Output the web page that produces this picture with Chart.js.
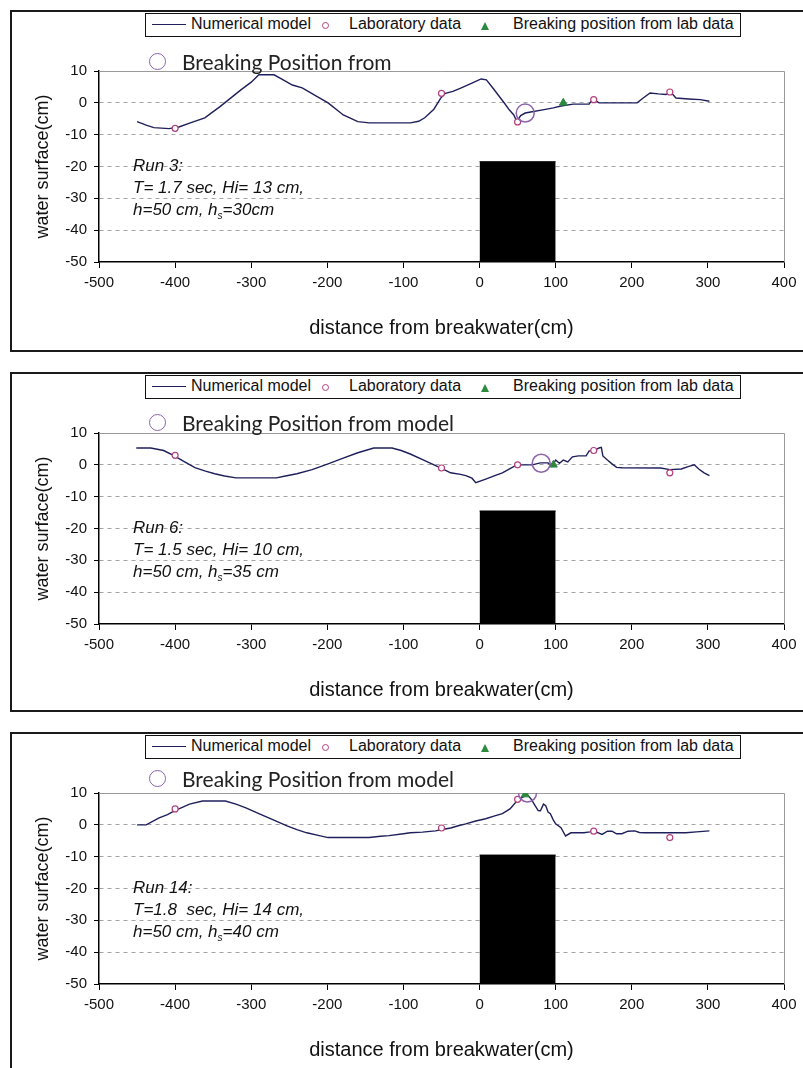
<!DOCTYPE html>
<html>
<head>
<meta charset="utf-8">
<script src="https://cdn.jsdelivr.net/npm/chart.js@4/dist/chart.umd.min.js"></script>
<style>
html,body{margin:0;padding:0;background:#fff;}
body{width:803px;height:1068px;overflow:hidden;position:relative;font-family:'Liberation Sans',Arial,sans-serif;color:#111;}
.panel{position:absolute;left:0;width:803px;height:345px;}
.frame{position:absolute;left:10px;top:0;width:830px;border:2px solid #1a1a1a;box-sizing:border-box;}
.panel canvas{position:absolute;left:0;top:0;}
.legend{position:absolute;left:145px;top:3px;width:596px;height:24px;border:1.5px solid #111;box-sizing:border-box;background:#fff;font-size:16px;}
.legend span{position:absolute;top:1px;white-space:nowrap;}
.lg-line{position:absolute;left:6px;top:10px;width:34px;height:0;border-top:1.5px solid #1f1f5c;}
.lg-circ{position:absolute;left:176px;top:8px;width:5px;height:5px;border:1.3px solid #b3407e;border-radius:50%;}
.lg-tri{position:absolute;left:335px;top:8px;width:0;height:0;border-left:4px solid transparent;border-right:4px solid transparent;border-bottom:8px solid #2b8a3e;}
.bpm{position:absolute;left:182px;font-family:Lato,'Open Sans',sans-serif;font-size:21px;color:#222;white-space:nowrap;line-height:24px;}
.bpm i{position:absolute;left:-33px;top:3px;width:15px;height:15px;border:1.5px solid #8d64ab;border-radius:50%;}
.run{position:absolute;left:133px;font-style:italic;font-size:17px;line-height:22px;white-space:nowrap;color:#111;}
.run sub{font-size:10px;}
</style>
</head>
<body>
<script>
// ---------- shared tick values ----------
const xTickValues = [-500, -400, -300, -200, -100, 0, 100, 200, 300, 400];
const yTickValues = [10, 0, -10, -20, -30, -40, -50];
const breakwaterX = [0, 100];

// ---------- Run 3 ----------
const run3ModelX = [-450,-438,-428,-408,-395,-380,-361,-341,-314,-300,-290,-270,-258,-246,-233,-215,-199,-179,-160,-145,-125,-105,-91,-80,-72,-60,-51,-45,-35,-24,-10,2,9,18,26,33,39,45,49,54,60,69,83,97,107,123,144,148,152,157,207,215,224,235,245,251,258,275,290,302];
const run3ModelY = [-5.9,-7,-7.8,-8.1,-7.6,-6.3,-4.7,-1.2,4,6.5,8.8,8.8,7.2,5.6,4.7,2.2,0,-3.8,-5.9,-6.3,-6.3,-6.3,-6.3,-5.8,-4.7,-2,1.5,3,3.6,4.7,6.2,7.5,7.2,4.5,2,-0.2,-2.2,-3.8,-5.9,-4,-3.2,-2.8,-2.2,-1.6,-1,-0.4,-0.4,1,0.8,0,0,1.5,3.1,2.8,2.6,3.4,1.5,1.2,1,0.5];
const run3LabX = [-400, -50, 50, 150, 250];
const run3LabY = [-8, 3, -6, 1, 3.4];
const run3BreakLabX = [110];
const run3BreakLabY = [0];
const run3BreakModelX = [60];
const run3BreakModelY = [-3.2];
const run3BreakwaterTop = [-18.5, -18.5];

// ---------- Run 6 ----------
const run6ModelX = [-451,-432,-415,-401,-388,-374,-360,-348,-335,-320,-295,-267,-255,-240,-220,-199,-180,-160,-139,-115,-103,-91,-72,-52,-38,-25,-18,-10,-5,9,20,30,40,49,60,69,80,90,95,100,105,110,116,122,130,140,144,150,157,160,162,168,174,180,187,238,250,265,275,282,288,295,302];
const run6ModelY = [5.3,5.3,4.5,2.8,1,-0.9,-2,-2.8,-3.5,-4.1,-4.1,-4.1,-3.5,-2.8,-1.5,0.3,2,3.8,5.3,5.3,4.5,3.4,1.3,-0.9,-2.5,-3,-3.4,-4.2,-5.6,-4.4,-3.4,-2.5,-1.2,0,0,0,0.6,0.6,-0.5,1.5,0.5,1.5,0.9,2.5,2.8,2.8,4.4,4.4,5.3,5.5,2.8,1.5,0.3,-0.8,-0.9,-1,-1.5,-1.3,-0.5,0,-1.3,-2.5,-3.4];
const run6LabX = [-400, -50, 50, 150, 250];
const run6LabY = [3, -1, 0, 4.5, -2.5];
const run6BreakLabX = [97];
const run6BreakLabY = [0];
const run6BreakModelX = [81];
const run6BreakModelY = [0.5];
const run6BreakwaterTop = [-14.5, -14.5];

// ---------- Run 14 ----------
const run14ModelX = [-450,-438,-421,-410,-401,-381,-364,-334,-320,-307,-290,-274,-253,-240,-227,-212,-199,-170,-145,-130,-119,-100,-91,-75,-58,-45,-38,-28,-18,-5,8,20,30,40,49,55,63,68,73,77,80,84,87,90,93,97,100,107,113,120,137,145,150,161,168,174,180,187,195,204,210,217,245,260,271,285,302];
const run14ModelY = [0,0,2.2,3.2,4.4,6.5,7.5,7.5,6.5,5.3,3.5,1.9,-0.3,-1.5,-2.5,-3.3,-4,-4,-4,-3.6,-3.4,-2.8,-2.5,-2.3,-1.9,-1.3,-1,-0.3,0.3,1.2,1.9,2.8,3.5,5,7.5,8.5,9.5,8,6,4.5,4.4,6.5,6,4,3.5,1.5,0.3,-0.9,-3.5,-2.5,-2.5,-2.2,-1.9,-3,-2,-2,-2.8,-2.8,-2,-1.9,-2.4,-2.5,-2.5,-2.5,-2.5,-2.2,-1.9];
const run14LabX = [-400, -50, 50, 150, 250];
const run14LabY = [5, -1, 8, -2, -4];
const run14BreakLabX = [60];
const run14BreakLabY = [9.5];
const run14BreakModelX = [63];
const run14BreakModelY = [10];
const run14BreakwaterTop = [-9.5, -9.5];

const pts = (xs, ys) => xs.map((x, i) => ({x: x, y: ys[i]}));

const framePlugin = {
  id: 'plotFrame',
  beforeDatasetsDraw(chart) {
    const {ctx, chartArea: a} = chart;
    ctx.save();
    ctx.strokeStyle = '#9a9a9a';
    ctx.lineWidth = 1;
    ctx.beginPath();
    ctx.moveTo(a.left, a.top + 0.5);
    ctx.lineTo(Math.round(a.right) + 0.5, a.top + 0.5);
    ctx.lineTo(Math.round(a.right) + 0.5, a.bottom);
    ctx.stroke();
    ctx.restore();
  }
};

const panels = [
  {top: 10, frameH: 342, bpmTop: 40, bpmText: 'Breaking Position from',
   run: ['Run 3:', 'T= 1.7 sec, Hi= 13 cm,', 'h=50 cm, h<sub>s</sub>=30cm'],
   model: pts(run3ModelX, run3ModelY), lab: pts(run3LabX, run3LabY),
   bLab: pts(run3BreakLabX, run3BreakLabY), bModel: pts(run3BreakModelX, run3BreakModelY),
   bw: pts(breakwaterX, run3BreakwaterTop)},
  {top: 372, frameH: 340, bpmTop: 39, bpmText: 'Breaking Position from model',
   run: ['Run 6:', 'T= 1.5 sec, Hi= 10 cm,', 'h=50 cm, h<sub>s</sub>=35 cm'],
   model: pts(run6ModelX, run6ModelY), lab: pts(run6LabX, run6LabY),
   bLab: pts(run6BreakLabX, run6BreakLabY), bModel: pts(run6BreakModelX, run6BreakModelY),
   bw: pts(breakwaterX, run6BreakwaterTop)},
  {top: 732, frameH: 400, bpmTop: 35, bpmText: 'Breaking Position from model',
   run: ['Run 14:', 'T=1.8&nbsp; sec, Hi= 14 cm,', 'h=50 cm, h<sub>s</sub>=40 cm'],
   model: pts(run14ModelX, run14ModelY), lab: pts(run14LabX, run14LabY),
   bLab: pts(run14BreakLabX, run14BreakLabY), bModel: pts(run14BreakModelX, run14BreakModelY),
   bw: pts(breakwaterX, run14BreakwaterTop)}
];

const tickFont = {family: "'Liberation Sans', Arial, sans-serif", size: 15};

panels.forEach((p) => {
  const div = document.createElement('div');
  div.className = 'panel';
  div.style.top = p.top + 'px';
  div.innerHTML =
    '<div class="frame" style="height:' + p.frameH + 'px"></div>' +
    '<canvas width="803" height="345"></canvas>' +
    '<div class="legend"><div class="lg-line"></div><span style="left:45px">Numerical model</span>' +
    '<div class="lg-circ"></div><span style="left:203px">Laboratory data</span>' +
    '<div class="lg-tri"></div><span style="left:367px">Breaking position from lab data</span></div>' +
    '<div class="bpm" style="top:' + p.bpmTop + 'px"><i></i>' + p.bpmText + '</div>' +
    '<div class="run" style="top:145px">' + p.run.join('<br>') + '</div>';
  document.body.appendChild(div);
  const canvas = div.querySelector('canvas');

  new Chart(canvas, {
    type: 'scatter',
    data: {
      datasets: [
        {label: 'Breaking position from model', data: p.bModel, showLine: false,
         pointStyle: 'circle', pointRadius: 9, borderColor: '#8d64ab', borderWidth: 1.5,
         backgroundColor: 'rgba(0,0,0,0)', order: 0},
        {label: 'Breaking position from lab data', data: p.bLab, showLine: false,
         pointStyle: 'triangle', pointRadius: 4.5, borderColor: '#2b8a3e', backgroundColor: '#2b8a3e',
         borderWidth: 1, order: 1},
        {label: 'Laboratory data', data: p.lab, showLine: false,
         pointStyle: 'circle', pointRadius: 3, borderColor: '#b3407e', backgroundColor: '#fff',
         borderWidth: 1.2, order: 2},
        {label: 'Numerical model', data: p.model, showLine: true, tension: 0,
         pointRadius: 0, borderColor: '#1f1f5c', borderWidth: 1.4, order: 3},
        {label: 'Breakwater', data: p.bw, showLine: true, fill: 'start',
         pointRadius: 0, borderColor: '#000', borderWidth: 1, backgroundColor: '#000', order: 4}
      ]
    },
    options: {
      responsive: false,
      devicePixelRatio: 1,
      animation: false,
      events: [],
      layout: {padding: {top: 61, right: 19, left: 0, bottom: 0}},
      plugins: {legend: {display: false}, tooltip: {enabled: false}},
      scales: {
        x: {
          type: 'linear', min: -500, max: 400,
          afterBuildTicks: (s) => { s.ticks = xTickValues.map(v => ({value: v})); },
          afterFit: (s) => { s.height = 93; },
          ticks: {font: tickFont, color: '#111', padding: 6},
          grid: {drawOnChartArea: false, drawTicks: true, tickLength: 6, tickColor: '#000', tickWidth: 1},
          border: {color: '#000', width: 1.5},
          title: {display: true, text: 'distance from breakwater(cm)', color: '#111',
                  font: {family: "'Liberation Sans', Arial, sans-serif", size: 20},
                  padding: {top: 0, bottom: 15}}
        },
        y: {
          type: 'linear', min: -50, max: 10,
          afterBuildTicks: (s) => { s.ticks = yTickValues.map(v => ({value: v})); },
          afterFit: (s) => { s.width = 99; },
          ticks: {font: tickFont, color: '#111', padding: 7},
          grid: {
            color: (c) => (c.tick && (c.tick.value === 10 || c.tick.value === -50)) ? 'rgba(0,0,0,0)' : '#a3a3a3',
            lineWidth: 1, drawTicks: true, tickLength: 5, tickColor: '#000', tickWidth: 1
          },
          border: {color: '#000', width: 1.5, dash: [4, 4]},
          title: {display: true, text: 'water surface(cm)', color: '#111',
                  font: {family: "'Liberation Sans', Arial, sans-serif", size: 18},
                  padding: {top: 32, bottom: 0}}
        }
      }
    },
    plugins: [framePlugin]
  });
});
</script>
</body>
</html>
